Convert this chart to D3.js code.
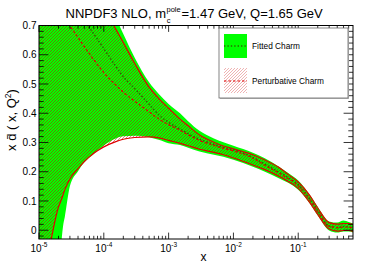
<!DOCTYPE html>
<html>
<head>
<meta charset="utf-8">
<script src="https://cdn.jsdelivr.net/npm/d3@7"></script>
<style>
  body { margin: 0; background: #fff; }
  text { font-family: "Liberation Sans", Arial, Helvetica, sans-serif; fill: #000; }
</style>
</head>
<body>
<div id="chart"></div>
<script>
const xValues = [1e-5, 1.5e-5, 2e-5, 2.2e-5, 2.35e-5, 2.5e-5, 3e-5, 4e-5, 5e-5, 7e-5,
  1e-4, 1.5e-4, 2e-4, 3e-4, 5e-4, 7e-4, 1e-3, 1.5e-3, 2e-3, 3e-3, 5e-3, 7e-3,
  0.01, 0.02, 0.03, 0.05, 0.07, 0.1, 0.15, 0.2, 0.3, 0.4, 0.5, 0.6, 0.7];

// Fitted charm (green band, dotted central value)
const fittedUpper = [1.406, 1.296, 1.221, 1.200, 1.180, 1.159, 1.111, 1.039, 0.984, 0.902,
  0.820, 0.731, 0.671, 0.590, 0.506, 0.467, 0.432, 0.400, 0.373, 0.340, 0.314, 0.301,
  0.289, 0.265, 0.247, 0.218, 0.196, 0.170, 0.122, 0.080, 0.030, 0.026, 0.033, 0.028, 0.023];
const fittedCentral = [0.943, 0.887, 0.845, 0.832, 0.823, 0.815, 0.789, 0.749, 0.717, 0.671,
  0.621, 0.563, 0.525, 0.484, 0.431, 0.395, 0.369, 0.346, 0.330, 0.311, 0.294, 0.283,
  0.275, 0.249, 0.227, 0.199, 0.180, 0.155, 0.107, 0.066, 0.014, 0.009, 0.013, 0.011, 0.008];
const fittedLower = [-0.582, -0.376, -0.205, -0.051, 0.014, 0.045, 0.151, 0.202, 0.232, 0.261,
  0.290, 0.313, 0.321, 0.323, 0.318, 0.309, 0.297, 0.291, 0.282, 0.269, 0.258, 0.251,
  0.241, 0.217, 0.201, 0.178, 0.162, 0.138, 0.092, 0.050, -0.001, -0.008, -0.004, -0.004, -0.008];

// Perturbative charm (red hatched band, dashed central value)
const pertUpper = [1.330, 1.217, 1.142, 1.121, 1.101, 1.084, 1.039, 0.971, 0.919, 0.844,
  0.768, 0.691, 0.642, 0.570, 0.489, 0.451, 0.417, 0.380, 0.357, 0.326, 0.301, 0.288,
  0.278, 0.258, 0.241, 0.215, 0.191, 0.165, 0.119, 0.076, 0.026, 0.021, 0.023, 0.023, 0.020];
const pertCentral = [0.844, 0.789, 0.751, 0.739, 0.731, 0.722, 0.698, 0.659, 0.628, 0.583,
  0.539, 0.498, 0.472, 0.441, 0.405, 0.381, 0.361, 0.342, 0.326, 0.307, 0.290, 0.280,
  0.271, 0.246, 0.223, 0.196, 0.177, 0.153, 0.105, 0.064, 0.014, 0.009, 0.011, 0.011, 0.008];
const pertLower = [-0.239, -0.044, 0.080, 0.103, 0.121, 0.138, 0.175, 0.211, 0.235, 0.263,
  0.285, 0.302, 0.311, 0.317, 0.319, 0.316, 0.307, 0.297, 0.289, 0.277, 0.266, 0.258,
  0.247, 0.223, 0.208, 0.185, 0.167, 0.143, 0.095, 0.054, 0.004, -0.003, -0.001, -0.001, -0.004];

const yTickLabels = [0, 0.1, 0.2, 0.3, 0.4, 0.5, 0.6, 0.7];
const xTickExponents = [-5, -4, -3, -2, -1];
const legendLabels = ["Fitted Charm", "Perturbative Charm"];

const W = 392, H = 266;
const frame = { left: 39, right: 353, top: 25.5, bottom: 239 };

const svg = d3.select("#chart")
  .append("svg")
  .attr("width", W)
  .attr("height", H);

const x = d3.scaleLog().domain([1e-5, 0.7]).range([frame.left, frame.right]);
const y = d3.scaleLinear().domain([-0.03, 0.7]).range([frame.bottom, frame.top]);

const defs = svg.append("defs");
defs.append("clipPath").attr("id", "plotclip")
  .append("rect")
  .attr("x", frame.left).attr("y", frame.top)
  .attr("width", frame.right - frame.left).attr("height", frame.bottom - frame.top);

// red diagonal hatching
defs.append("pattern")
  .attr("id", "hatch")
  .attr("patternUnits", "userSpaceOnUse")
  .attr("width", 3).attr("height", 3)
  .append("path")
  .attr("d", "M-1,1 l2,-2 M0,3 l3,-3 M2,4 l2,-2")
  .attr("stroke", "#c80000")
  .attr("stroke-width", 0.5);

const rows = xValues.map((xv, i) => ({
  x: xv,
  fu: fittedUpper[i], fc: fittedCentral[i], fl: fittedLower[i],
  pu: pertUpper[i], pc: pertCentral[i], pl: pertLower[i]
}));

const plot = svg.append("g").attr("clip-path", "url(#plotclip)");

const curve = d3.curveMonotoneX;
const area = (lo, hi) => d3.area()
  .x(d => x(d.x)).y0(d => y(d[lo])).y1(d => y(d[hi])).curve(curve);
const line = key => d3.line().x(d => x(d.x)).y(d => y(d[key])).curve(curve);

// green band
plot.append("path")
  .attr("d", area("fl", "fu")(rows))
  .attr("fill", "#00ff00");

// red hatched band
plot.append("path")
  .attr("d", area("pl", "pu")(rows))
  .attr("fill", "url(#hatch)");

// red band edges
["pu", "pl"].forEach(k => {
  plot.append("path")
    .attr("d", line(k)(rows))
    .attr("fill", "none")
    .attr("stroke", "#e00000")
    .attr("stroke-width", 1.2);
});

// central values
plot.append("path")
  .attr("d", line("fc")(rows))
  .attr("fill", "none")
  .attr("stroke", "#2a6a00")
  .attr("stroke-width", 1.5)
  .attr("stroke-dasharray", "1.5,2");

plot.append("path")
  .attr("d", line("pc")(rows))
  .attr("fill", "none")
  .attr("stroke", "#e00000")
  .attr("stroke-width", 1.2)
  .attr("stroke-dasharray", "2.5,2");

// frame
svg.append("rect")
  .attr("x", frame.left).attr("y", frame.top)
  .attr("width", frame.right - frame.left).attr("height", frame.bottom - frame.top)
  .attr("fill", "none")
  .attr("stroke", "#000")
  .attr("stroke-width", 1);

// ticks (drawn inside the frame on all four sides)
const ticks = svg.append("g").attr("stroke", "#000").attr("stroke-width", 0.8);
const xMinor = [];
xTickExponents.forEach(e => {
  for (let k = 1; k <= 9; k++) {
    const v = k * Math.pow(10, e);
    if (v <= 0.7) xMinor.push({ v, major: k === 1 });
  }
});
xMinor.forEach(t => {
  const px = x(t.v), len = t.major ? 6.4 : 3.2;
  ticks.append("line").attr("x1", px).attr("x2", px)
    .attr("y1", frame.bottom).attr("y2", frame.bottom - len);
  ticks.append("line").attr("x1", px).attr("x2", px)
    .attr("y1", frame.top).attr("y2", frame.top + len);
});

d3.range(-1, 36).forEach(i => {
  const v = i * 0.02;
  const major = i % 5 === 0;
  const py = y(v), len = major ? 9.4 : 4.7;
  ticks.append("line").attr("x1", frame.left).attr("x2", frame.left + len)
    .attr("y1", py).attr("y2", py);
  ticks.append("line").attr("x1", frame.right).attr("x2", frame.right - len)
    .attr("y1", py).attr("y2", py);
});

// y tick labels
svg.selectAll(".ylab")
  .data(yTickLabels)
  .enter()
  .append("text")
  .attr("x", 36.5)
  .attr("y", d => y(d) + 3.6)
  .attr("text-anchor", "end")
  .style("font-size", "10px")
  .text(d => d === 0 ? "0" : d.toFixed(1));

// x tick labels 10^n
xTickExponents.forEach(e => {
  const t = svg.append("text")
    .attr("x", x(Math.pow(10, e)))
    .attr("y", 251.5)
    .attr("text-anchor", "middle")
    .style("font-size", "10px");
  t.append("tspan").text("10");
  t.append("tspan").attr("dy", -4.5).style("font-size", "6.5px").text(String(e));
});

// axis titles
svg.append("text")
  .attr("x", 203.5)
  .attr("y", 260.5)
  .attr("text-anchor", "middle")
  .style("font-size", "12px")
  .text("x");

const yt = svg.append("text")
  .attr("transform", "translate(16,120) rotate(-90)")
  .attr("text-anchor", "middle")
  .style("font-size", "13px");
yt.append("tspan").text("x d\u0304 ( x, Q");
yt.append("tspan").attr("dy", -5).style("font-size", "8.5px").text("2");
yt.append("tspan").attr("dy", 5).text(")");

// title
svg.append("text")
  .attr("x", 166)
  .attr("y", 18.3)
  .attr("text-anchor", "end")
  .style("font-size", "13px")
  .text("NNPDF3 NLO, m");
svg.append("text")
  .attr("x", 166.5).attr("y", 12)
  .style("font-size", "7.5px")
  .text("pole");
svg.append("text")
  .attr("x", 166.8).attr("y", 23)
  .style("font-size", "7.5px")
  .text("c");
svg.append("text")
  .attr("x", 181.5)
  .attr("y", 18.3)
  .style("font-size", "13px")
  .text("=1.47 GeV, Q=1.65 GeV");

// legend
const leg = svg.append("g");
leg.append("rect")
  .attr("x", 220).attr("y", 29).attr("width", 129).attr("height", 70)
  .attr("fill", "#bbb");
leg.append("rect")
  .attr("x", 219).attr("y", 28).attr("width", 129).attr("height", 70)
  .attr("fill", "#fff").attr("stroke", "#666").attr("stroke-width", 0.8);

leg.append("rect")
  .attr("x", 224).attr("y", 34).attr("width", 23).attr("height", 24)
  .attr("fill", "#00ff00");
leg.append("line")
  .attr("x1", 224).attr("x2", 247).attr("y1", 46).attr("y2", 46)
  .attr("stroke", "#2a6a00").attr("stroke-width", 1.3).attr("stroke-dasharray", "1.4,2");

leg.append("rect")
  .attr("x", 224).attr("y", 68).attr("width", 23).attr("height", 25)
  .attr("fill", "url(#hatch)").attr("opacity", 0.6);
leg.append("line")
  .attr("x1", 224).attr("x2", 247).attr("y1", 81).attr("y2", 81)
  .attr("stroke", "#e00000").attr("stroke-width", 1.2).attr("stroke-dasharray", "2.5,2");

leg.selectAll(".legtext")
  .data(legendLabels)
  .enter()
  .append("text")
  .attr("x", 252)
  .attr("y", (d, i) => 49 + i * 35)
  .style("font-size", "8.3px")
  .text(d => d);
</script>
</body>
</html>
